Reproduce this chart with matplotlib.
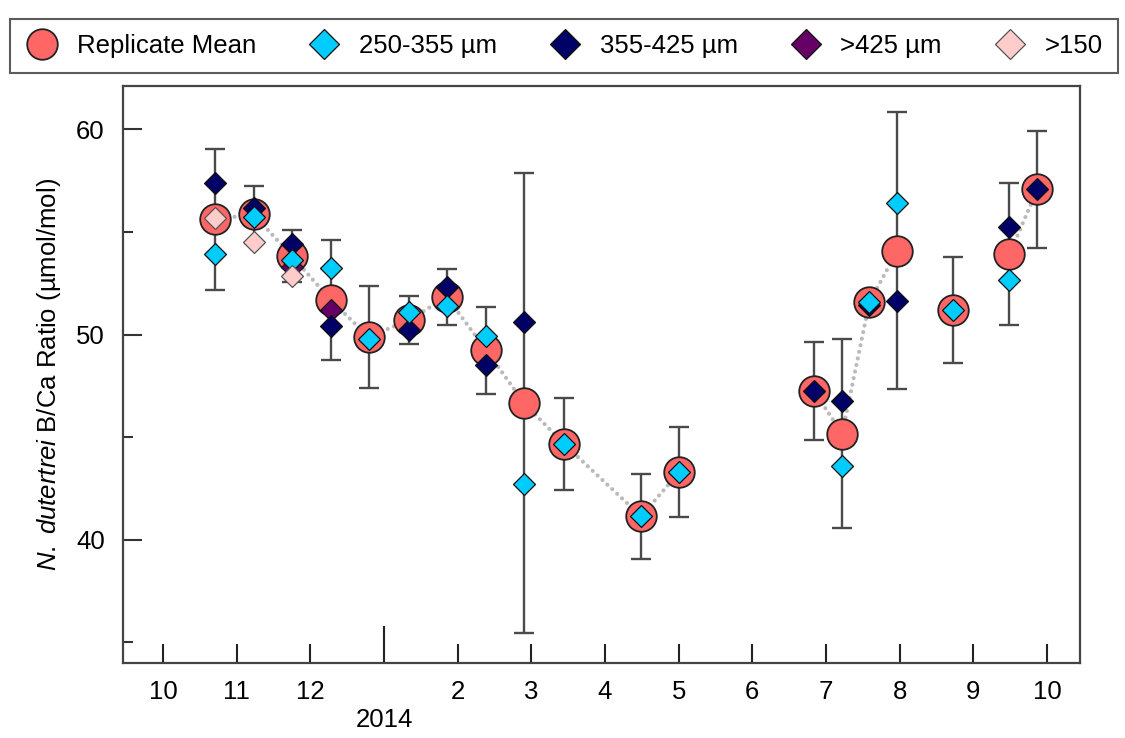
import numpy as np
import matplotlib
matplotlib.use("Agg")
import matplotlib.pyplot as plt
from matplotlib.lines import Line2D

plt.rcParams['font.family'] = ['Liberation Sans', 'DejaVu Sans']
plt.rcParams['mathtext.fontset'] = 'custom'
plt.rcParams['mathtext.rm'] = 'Liberation Sans'
plt.rcParams['mathtext.it'] = 'Liberation Sans:italic'

# sample dates as months since Oct 2013 (0 = Oct 2013, 12 = Oct 2014)
months = [0.70, 1.23, 1.75, 2.28, 2.79, 3.34, 3.85, 4.39, 4.90, 5.44, 6.49, 7.01,
          8.84, 9.22, 9.59, 9.97, 10.73, 11.49, 11.87]
mean = [55.62, 55.86, 53.83, 51.68, 49.89, 50.71, 51.84, 49.24, 46.67, 44.69, 41.15, 43.31,
        47.24, 45.18, 51.59, 54.09, 51.20, 53.93, 57.08]
err = [3.45, 1.40, 1.26, 2.93, 2.50, 1.18, 1.35, 2.13, 11.20, 2.24, 2.06, 2.17,
       2.38, 4.59, 0.0, 6.75, 2.58, 3.48, 2.85]
s250 = [53.91, 55.72, 53.63, 53.23, 49.80, 51.11, 51.39, 49.96, 42.74, 44.69, 41.15, 43.31,
        None, 43.59, 51.59, 56.40, 51.20, 52.66, None]
s355 = [57.38, 56.16, 54.41, 50.41, None, 50.25, 52.30, 48.50, 50.62, None, None, None,
        47.24, 46.77, 51.45, 51.65, None, 55.23, 57.08]
s425 = [None, None, 53.31, 51.20, None, None, None, None, None, None, None, None,
        None, None, None, None, None, None, None]
s150 = [55.67, 54.53, 52.87, None, None, None, None, None, None, None, None, None,
        None, None, None, None, None, None, None]
# which means are joined by the dotted line (segment id, None = not joined)
segment = [1, 1, 1, 1, 1, 1, 1, 1, 1, 1, 1, 1, 2, 2, 2, 2, None, 3, 3]

month_ticks = [0, 1, 2, 4, 5, 6, 7, 8, 9, 10, 11, 12]
month_labels = ['10', '11', '12', '2', '3', '4', '5', '6', '7', '8', '9', '10']

x = np.array(months, dtype=float)
m = np.array(mean, dtype=float)

fig = plt.figure(figsize=(11.25, 7.38), dpi=100)
ax = fig.add_axes([0.1091, 0.1016, 0.851, 0.7819])

# dotted connecting line, broken wherever the segment changes
lx, ly = [], []
prev = None
for xi, yi, sg in zip(x, m, segment):
    if sg != prev and lx:
        lx.append(np.nan)
        ly.append(np.nan)
    prev = sg
    if sg is None:
        continue
    lx.append(xi)
    ly.append(yi)
ax.plot(lx, ly, color='#bbbbbb', lw=3.0, linestyle=(0, (0.01, 1.6)),
        dash_capstyle='round', zorder=1)

ax.errorbar(x, m, yerr=err, fmt='none', ecolor='#4a4a4a', elinewidth=1.7,
            capsize=7, capthick=1.7, zorder=2)

circ = dict(marker='o', ls='none', ms=22, mfc='#ff6666', mec='#222222', mew=1.3)
dia = dict(marker='D', ls='none', mec='#111111', mew=0.9)
ax.plot(x, m, zorder=3, **circ)
ax.plot(x, np.array(s425, dtype=float), ms=11, mfc='#660066', zorder=4, **dia)
ax.plot(x, np.array(s355, dtype=float), ms=11, mfc='#000066', zorder=5, **dia)
ax.plot(x, np.array(s250, dtype=float), ms=11, mfc='#00ccff', zorder=6, **dia)
ax.plot(x, np.array(s150, dtype=float), ms=11, mfc='#ffcccc', zorder=7,
        **{**dia, 'mec': '#555555'})

ax.set_xlim(-0.547, 12.45)
ax.set_ylim(34.0, 62.12)

ax.set_xticks(month_ticks)
ax.set_xticklabels(month_labels)
ax.set_xticks([3], minor=True)
ax.tick_params(axis='x', which='major', direction='in', length=13.5, width=1.5,
               pad=12, labelsize=18.5, color='#222222')
ax.tick_params(axis='x', which='minor', direction='in', length=27, width=1.5,
               color='#222222')
ax.text(3, -0.099, '2014', transform=ax.get_xaxis_transform(), ha='center',
        va='center', fontsize=18.5)

ax.set_yticks([40, 50, 60])
ax.set_yticks([35, 45, 55], minor=True)
ax.tick_params(axis='y', which='major', direction='in', length=14, width=1.5,
               pad=13, labelsize=18.5, color='#333333')
ax.tick_params(axis='y', which='minor', direction='in', length=7, width=1.5,
               color='#333333')
ax.set_ylabel(r'$\it{N.\ dutertrei}$ B/Ca Ratio (µmol/mol)', fontsize=18.5)
ax.yaxis.set_label_coords(-0.062, 0.5)

for sp in ax.spines.values():
    sp.set_linewidth(1.6)
    sp.set_color('#444444')

# legend handles with bigger diamonds than in the plot
handles = [Line2D([], [], **circ),
           Line2D([], [], ms=15, mfc='#00ccff', **dia),
           Line2D([], [], ms=15, mfc='#000066', **dia),
           Line2D([], [], ms=15, mfc='#660066', **dia),
           Line2D([], [], ms=15, mfc='#ffcccc', **{**dia, 'mec': '#555555'})]
labels = ['Replicate Mean', '250-355 µm', '355-425 µm', '>425 µm', '>150']
leg = fig.legend(handles, labels,
                 loc='center', bbox_to_anchor=(10 / 1125, 663 / 738, 1108 / 1125, 58 / 738),
                 mode='expand', ncol=5, fontsize=18.5, fancybox=False, borderaxespad=0,
                 handletextpad=0.7, handlelength=1.3, borderpad=0.6)
leg.get_frame().set_edgecolor('#333333')
leg.get_frame().set_linewidth(1.5)

fig.savefig('out.png', dpi=100)
